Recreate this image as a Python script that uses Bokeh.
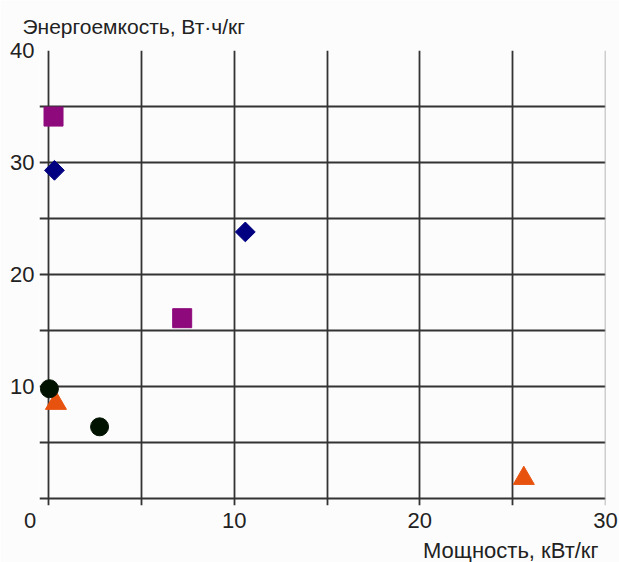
from bokeh.plotting import figure
from bokeh.models import Range1d, FixedTicker, Title, Span
from bokeh.embed import file_html
from bokeh.resources import INLINE
import numpy as np

# Data (power kW/kg, energy Wh/kg)
square_x = [0.27, 7.2]
square_y = [34.1, 16.1]
diamond_x = [0.32, 10.6]
diamond_y = [29.3, 23.8]
triangle_x = [0.4, 25.6]
triangle_y = [8.5, 1.8]
circle_x = [0.05, 2.75]
circle_y = [9.8, 6.4]

x_ticks = [0, 10, 20, 30]
y_ticks = [10, 20, 30, 40]
grid_x = [0, 5, 10, 15, 20, 25]
grid_y = [0, 5, 10, 15, 20, 25, 30, 35, 40]
# the origin "0" sits left of the axis in the reference: pad with figure spaces
x_tick_labels = {0: "0\u2007\u2007\u2007", 10: "10", 20: "20", 30: "30"}
y_title = "Энергоемкость, Вт·ч/кг"
x_title = "Мощность, кВт/кг"

FONT = "Liberation Sans"
GRID = "#333333"
TXT = "#222222"
FS = "22px"

# ranges extend slightly past 0 so that grid lines stick out like tick marks
p = figure(width=619, height=562, output_backend="svg", toolbar_location=None,
           x_range=Range1d(-0.485, 30), y_range=Range1d(-0.625, 40),
           min_border_left=39, min_border_right=14, min_border_top=50, min_border_bottom=57,
           background_fill_color="#fcfcfc", border_fill_color="#fcfcfc")

p.outline_line_color = None

for ax, ticks, stand in ((p.xaxis, x_ticks, 2), (p.yaxis, y_ticks, 5)):
    ax.ticker = FixedTicker(ticks=ticks)
    ax.major_tick_out = 0
    ax.major_tick_in = 0
    ax.minor_tick_out = 0
    ax.minor_tick_in = 0
    ax.major_label_standoff = stand
    ax.axis_line_color = None
    ax.major_label_text_font = FONT
    ax.major_label_text_font_size = FS
    ax.major_label_text_color = TXT
p.xaxis.major_label_overrides = x_tick_labels

p.xgrid.ticker = FixedTicker(ticks=grid_x)
p.ygrid.ticker = FixedTicker(ticks=grid_y)
for g in (p.xgrid, p.ygrid):
    g.grid_line_color = GRID
    g.grid_line_width = 1.8
    g.grid_line_alpha = 1.0

p.add_layout(Span(location=30, dimension="height", line_color="#a0a0a0", line_width=1.5))

p.scatter(square_x, square_y, marker="square", size=19, fill_color="#8e0a7c", line_color="#8e0a7c")
p.scatter(diamond_x, diamond_y, marker="square", size=14, angle=np.pi / 4,
          fill_color="#000080", line_color="#000080")
p.scatter(triangle_x, triangle_y, marker="triangle", size=21, fill_color="#e8520f", line_color="#e8520f")
p.scatter(circle_x, circle_y, marker="circle", size=18, fill_color="#001200", line_color="#001200")

p.add_layout(Title(text=y_title, align="left", offset=-17, standoff=22, vertical_align="top",
                   text_font=FONT, text_font_size="21px", text_font_style="normal",
                   text_color=TXT), "above")
p.add_layout(Title(text=x_title, align="right", offset=7, standoff=0,
                   text_font=FONT, text_font_size=FS, text_font_style="normal",
                   text_color=TXT), "below")

open("out.html", "w").write(file_html(p, INLINE))
